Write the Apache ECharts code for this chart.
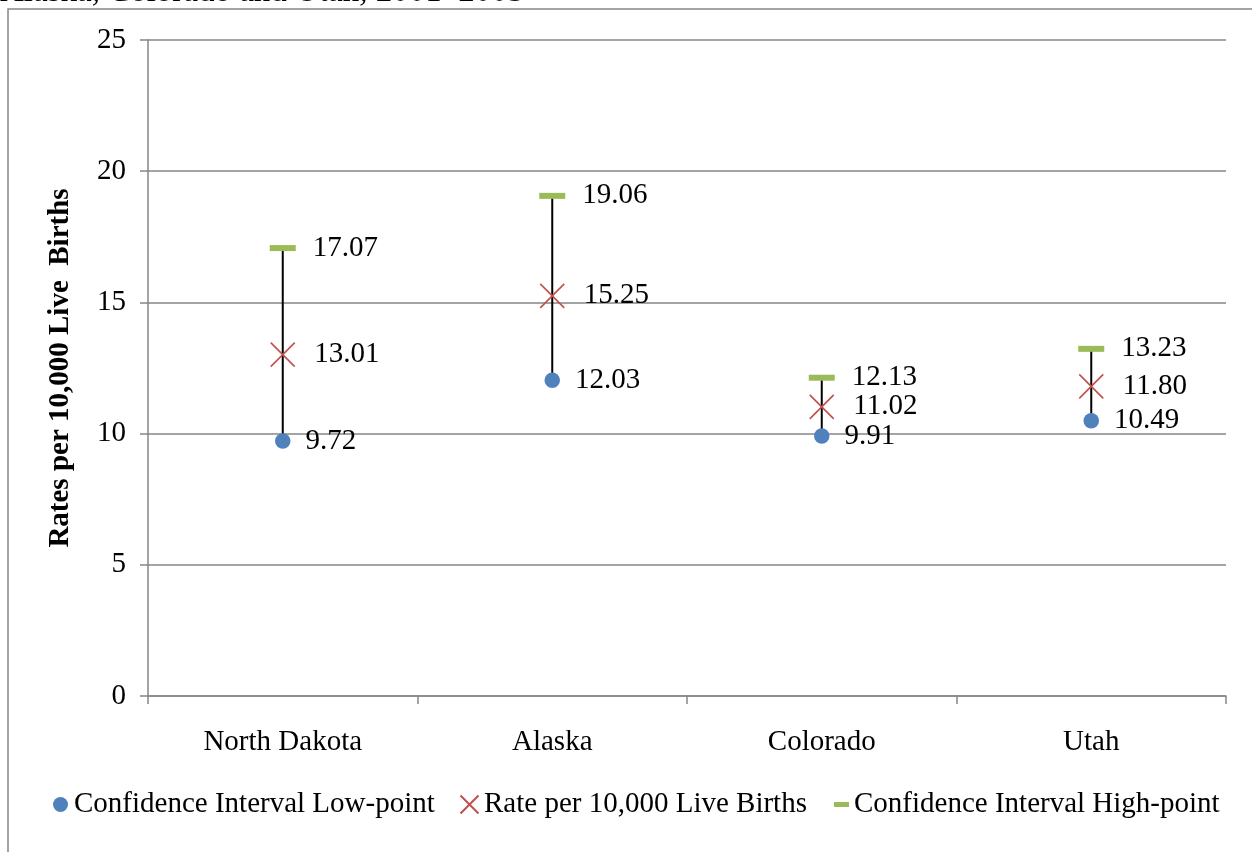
<!DOCTYPE html>
<html>
<head>
<meta charset="utf-8">
<script src="https://cdn.jsdelivr.net/npm/echarts@6/dist/echarts.min.js"></script>
<style>
html,body{margin:0;padding:0;background:#fff;}
#chart{width:1252px;height:852px;}
</style>
</head>
<body>
<div id="chart"></div>
<script>
const titleText = 'Alaska, Colorado and Utah, 2001–2005';
const categories = ['North Dakota', 'Alaska', 'Colorado', 'Utah'];
const lowPoint = [9.72, 12.03, 9.91, 10.49];
const rate = [13.01, 15.25, 11.02, 11.80];
const highPoint = [17.07, 19.06, 12.13, 13.23];
const yTicks = [0, 5, 10, 15, 20, 25];
const seriesNames = ['Confidence Interval Low-point', 'Rate per 10,000 Live Births', 'Confidence Interval High-point'];
const yAxisTitle = 'Rates per 10,000 Live  Births';

const FONT = '"Liberation Serif", "Times New Roman", serif';
const GRID = '#868686';
const chart = echarts.init(document.getElementById('chart'));

const labelBase = {
  show: true,
  position: 'right',
  color: '#000',
  fontFamily: FONT,
  fontSize: 29,
  formatter: p => Number(p.value[1]).toFixed(2)
};
const xPath = 'path://M0,0L20,20M20,0L0,20';
const legendText = { color: '#000', fontFamily: FONT, fontSize: 29 };

const option = {
  animation: false,
  backgroundColor: '#fff',
  graphic: [
    { type: 'rect', shape: { x: 8, y: 9, width: 1400, height: 1000 }, style: { fill: 'none', stroke: '#878787', lineWidth: 1.5 }, silent: true },
    { type: 'text', x: 0, y: 9, style: { text: titleText, font: '33px ' + FONT, fill: '#000', textVerticalAlign: 'bottom' }, silent: true }
  ],
  grid: { left: 148, right: 26, top: 40, bottom: 156, containLabel: false },
  xAxis: {
    type: 'category',
    data: categories,
    boundaryGap: true,
    axisLine: { show: true, lineStyle: { color: GRID, width: 1.5 } },
    axisTick: { show: true, alignWithLabel: false, interval: 0, length: 8, lineStyle: { color: GRID, width: 1.5 } },
    axisLabel: { color: '#000', fontFamily: FONT, fontSize: 29, margin: 32, interval: 0 },
    splitLine: { show: false }
  },
  yAxis: {
    type: 'value',
    min: yTicks[0],
    max: yTicks[yTicks.length - 1],
    interval: 5,
    name: yAxisTitle,
    nameLocation: 'middle',
    nameRotate: 90,
    nameGap: 73,
    nameTextStyle: { color: '#000', fontFamily: FONT, fontSize: 29, fontWeight: 'bold' },
    axisLine: { show: true, lineStyle: { color: GRID, width: 1.5 } },
    axisTick: { show: true, length: 8, lineStyle: { color: GRID, width: 1.5 } },
    axisLabel: { color: '#000', fontFamily: FONT, fontSize: 29, margin: 22 },
    splitLine: { show: true, lineStyle: { color: GRID, width: 1.5 } }
  },
  legend: [
    { data: [seriesNames[0]], left: 53, top: 790, padding: 0, itemWidth: 17, itemHeight: 15, textStyle: legendText },
    { data: [seriesNames[1]], left: 458, top: 790, padding: 0, itemWidth: 19, itemHeight: 18, textStyle: legendText },
    { data: [seriesNames[2]], left: 834, top: 790, padding: 0, itemWidth: 15, itemHeight: 5, textStyle: legendText }
  ],
  series: [
    {
      type: 'custom',
      name: 'hilo',
      z: 1,
      data: categories.map((c, i) => [i, lowPoint[i], highPoint[i]]),
      renderItem: (params, api) => {
        const a = api.coord([api.value(0), api.value(1)]);
        const b = api.coord([api.value(0), api.value(2)]);
        return { type: 'line', shape: { x1: a[0], y1: a[1], x2: b[0], y2: b[1] }, style: { stroke: '#000', lineWidth: 2 } };
      },
      silent: true
    },
    {
      type: 'scatter',
      name: seriesNames[0],
      z: 3,
      symbol: 'circle',
      symbolSize: 15.5,
      itemStyle: { color: '#4F81BD', opacity: 1 },
      label: Object.assign({}, labelBase, { distance: 15 }),
      data: lowPoint.map((v, i) => [i, v])
    },
    {
      type: 'scatter',
      name: seriesNames[1],
      z: 3,
      symbol: xPath,
      symbolSize: 24,
      itemStyle: { color: 'none', borderColor: '#C0504D', borderWidth: 1.6, opacity: 1 },
      label: Object.assign({}, labelBase, { distance: 17 }),
      data: rate.map((v, i) => [i, v])
    },
    {
      type: 'scatter',
      name: seriesNames[2],
      z: 3,
      symbol: 'rect',
      symbolSize: [26, 6],
      itemStyle: { color: '#9BBB59', opacity: 1 },
      label: Object.assign({}, labelBase, { distance: 17 }),
      data: highPoint.map((v, i) => [i, v])
    }
  ]
};
chart.setOption(option);
</script>
</body>
</html>
